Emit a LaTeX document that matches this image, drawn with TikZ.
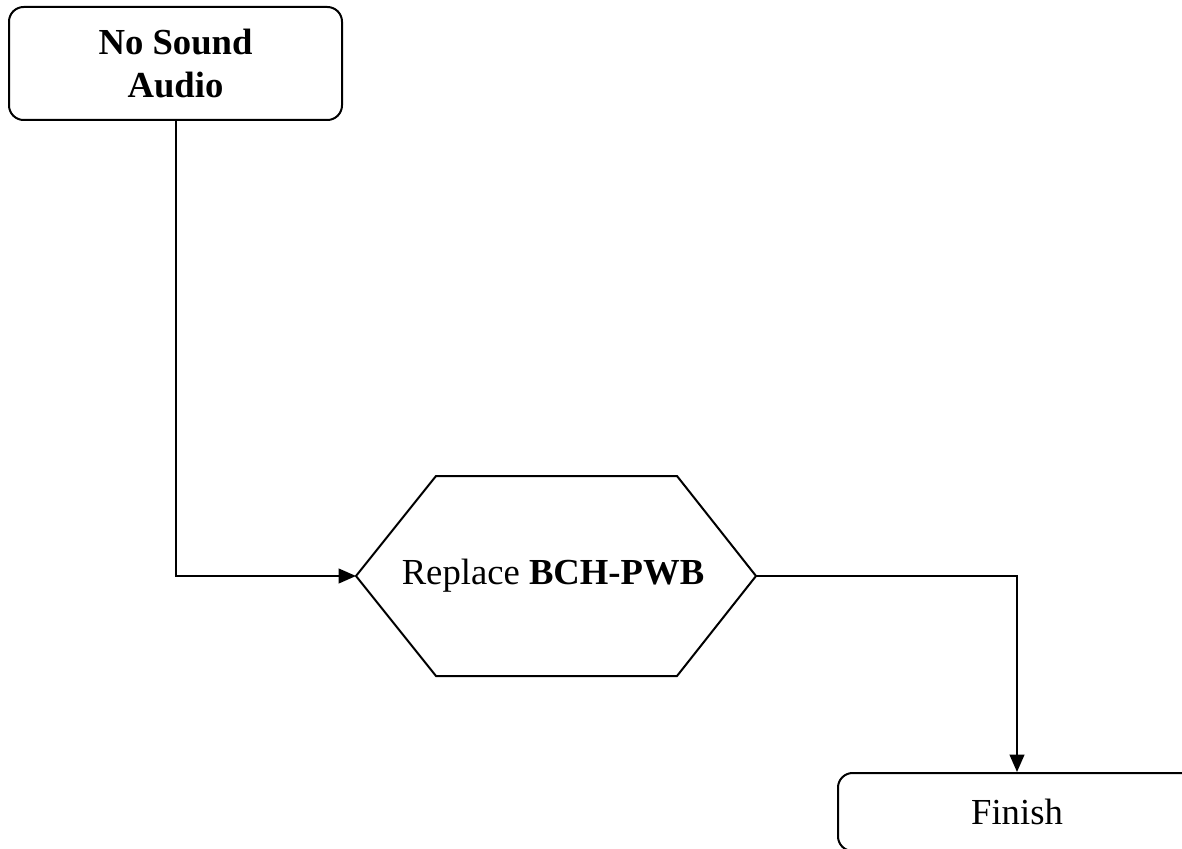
\documentclass[tikz,border=0pt]{standalone}
\usepackage{fontspec}
\setmainfont{Liberation Serif}
\usepackage{tikz}
\usetikzlibrary{positioning, arrows.meta}
\tikzset{
  flowbox/.style={draw, line width=1.5pt, rounded corners=11pt, align=center},
  flowline/.style={line width=1.5pt, -{Triangle[length=13pt, width=11pt]}}
}

\begin{document}
\begin{tikzpicture}[x=0.75pt, y=-0.75pt, font=\fontsize{27.5}{32}\selectfont]
  \useasboundingbox (0,0) rectangle (1182,849);
  \node[flowbox, minimum width=333*0.75pt, minimum height=113*0.75pt] (snd) at (175.5,63.5) {\textbf{No Sound}\\\textbf{Audio}};
  \node (repl) at (553,576) {Replace \textbf{BCH-PWB}};
  \coordinate (replL) at (356,576);
  \coordinate (replR) at (756,576);
  \draw[line width=1.5pt, line join=miter] (replL) -- (436,476) -- (677,476) -- (replR) -- (677,676) -- (436,676) -- cycle;
  \node[flowbox, minimum width=358*0.75pt, minimum height=78*0.75pt] (fin) at (1017,812) {Finish};
  \draw[flowline] (snd.south) |- (replL);
  \draw[flowline] (replR) -| (fin.north);
\end{tikzpicture}
\end{document}
